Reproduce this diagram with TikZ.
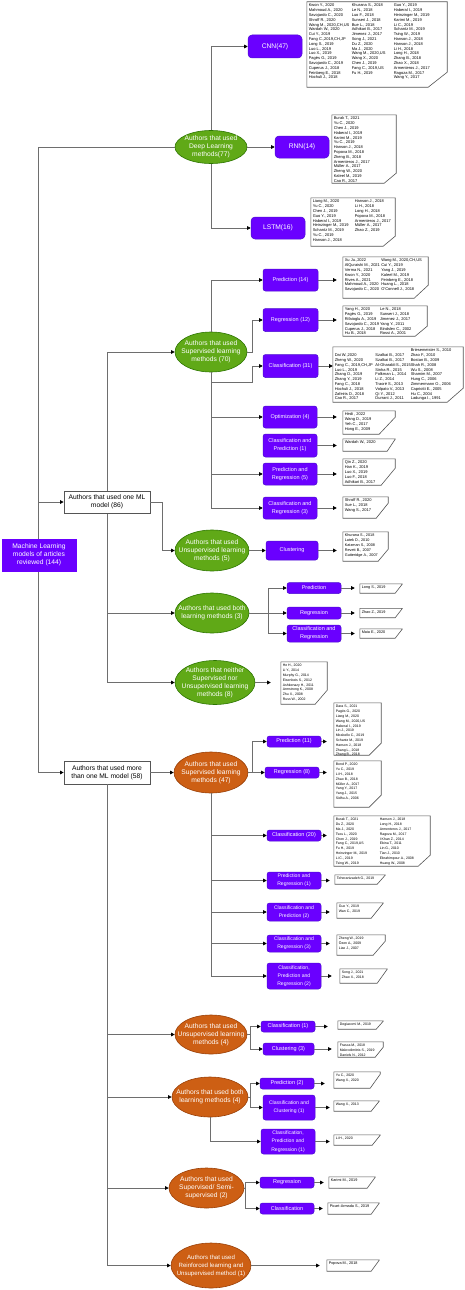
\documentclass[tikz,border=0pt]{standalone}
\usepackage{fontspec}
\setmainfont{Liberation Sans}
\setsansfont{Liberation Sans}
\usetikzlibrary{shapes.geometric,arrows.meta,fit,calc}
\definecolor{purp}{HTML}{6A00FF}
\definecolor{purpd}{HTML}{4B0FD0}
\definecolor{grn}{HTML}{60A917}
\definecolor{grnd}{HTML}{2D7600}
\definecolor{org}{HTML}{CD5F14}
\definecolor{orgd}{HTML}{9A4008}
\definecolor{lncol}{HTML}{6E6E6E}
\definecolor{cardd}{HTML}{555555}
\definecolor{boxd}{HTML}{555555}
\newcommand\et[1]{\smash{\raisebox{-2pt}{\makebox[0pt]{\begin{tabular}{@{}c@{}}#1\end{tabular}}}}}
\newcommand\lf[1]{\fontsize{#1}{4.8}\selectfont}
\newcommand\onecol[2]{\lf{#1}\begin{tabular}{@{}l@{}}#2\end{tabular}}
\newcommand\lcard[8]{%
  \node[fit={(#2,#3) (#4,#5)}, inner sep=0pt] (#1) {};
  \draw[cardline] (#1.north west) -- (#1.north east) -- ([yshift=#7pt]#1.south east) -- ([xshift=-#6pt]#1.south east) -- (#1.south west) -- cycle;
  \node[anchor=north west, inner sep=0pt] (#1t) at ([shift={(1.8pt,-1.6pt)}]#1.north west) {#8};
}
\begin{document}
\begin{tikzpicture}[x=1pt,y=-1pt,
  conn/.style={draw=lncol, line width=0.8pt},
  arr/.style={conn, -{Triangle[length=3.6pt,width=3.6pt,color=black]}},
  pbox/.style={rectangle, rounded corners=2.5pt, fill=purp, draw=purpd, line width=0.5pt, text=white, inner sep=0.5pt, align=center, font=\fontsize{5.5}{8}\selectfont},
  pboxs/.style={pbox, font=\fontsize{5.1}{8.2}\selectfont},
  dlbox/.style={pbox, rounded corners=4pt, font=\fontsize{6.7}{8}\selectfont},
  gell/.style={ellipse, fill=grn, draw=grnd, line width=0.6pt, inner sep=0pt, text=white, font=\fontsize{6.7}{8}\selectfont},
  oell/.style={gell, fill=org, draw=orgd},
  wbox/.style={rectangle, fill=white, draw=boxd, line width=0.7pt, align=center, inner sep=0pt, font=\fontsize{6.7}{8}\selectfont},
  cardline/.style={draw=cardd, line width=0.6pt}]
\fill[white] (0,0) rectangle (464,1290);
\useasboundingbox (0,0) rectangle (464,1290);

\coordinate (rA) at (38,147);
\coordinate (rB) at (38,772.5);
\coordinate (oA) at (107,352);
\coordinate (oB) at (107,682.5);
\coordinate (mB) at (107,1265.5);
\coordinate (sc) at (211,382);
\draw[conn] (rA) -- (rB);
\draw[conn] (oA) -- (oB);

% main boxes
\node[rectangle, fill=purp, draw=purp, text=white, align=center, inner sep=0pt, minimum width=74pt, minimum height=32pt, font=\fontsize{6.7}{8}\selectfont] (root) at (39,555) {Machine Learning\\models of articles\\reviewed (144)};
\node[wbox, minimum width=86pt, minimum height=22pt] (one) at (107,502) {Authors that used one ML\\model (86)};
\node[wbox, minimum width=86pt, minimum height=23pt] (more) at (107,772.5) {Authors that used more\\than one ML model (58)};

% deep learning
\node[gell, minimum width=72pt, minimum height=33pt] (dl) at (211,147) {\et{Authors that used\\Deep Learning\\methods(77)}};
\node[dlbox, minimum width=54pt, minimum height=23pt] (cnn) at (275,46.5) {CNN(47)};
\node[dlbox, minimum width=54pt, minimum height=22pt] (rnn) at (302,147) {RNN(14)};
\node[dlbox, minimum width=54pt, minimum height=22pt] (lstm) at (278,228) {LSTM(16)};

% green ellipses
\node[gell, minimum width=72pt, minimum height=40pt] (sup) at (211,352) {\et{Authors that used\\Supervised learning\\methods (70)}};
\node[gell, minimum width=74pt, minimum height=41pt] (uns) at (212,550.5) {\et{Authors that used\\Unsupervised learning\\methods (5)}};
\node[gell, minimum width=74pt, minimum height=40pt] (both) at (212,613) {\et{Authors that used both\\learning methods (3)}};
\node[gell, minimum width=80pt, minimum height=44pt] (nei) at (215,682.5) {\et{Authors that neither\\Supervised nor\\Unsupervised learning\\methods (8)}};

% orange ellipses
\node[oell, minimum width=74pt, minimum height=41pt] (osup) at (211,772.5) {\et{Authors that used\\Supervised learning\\methods (47)}};
\node[oell, minimum width=72pt, minimum height=39pt] (ouns) at (211,1034.5) {\et{Authors that used\\Unsupervised learning\\methods (4)}};
\node[oell, minimum width=76pt, minimum height=40pt] (oboth) at (210,1097) {\et{Authors that used both\\learning methods (4)}};
\node[oell, minimum width=75pt, minimum height=40pt] (osemi) at (206.5,1188) {\et{Authors that used\\Supervised/ Semi-\\supervised (2)}};
\node[oell, minimum width=80pt, minimum height=45pt, font=\fontsize{6.1}{8}\selectfont] (orein) at (211,1265.5) {\et{Authors that used\\Reinforced learning and\\Unsupervised method (1)}};

% purple boxes, green supervised
\node[pbox, minimum width=55pt, minimum height=22pt] (sp1) at (290.5,280) {Prediction (14)};
\node[pbox, minimum width=55pt, minimum height=23pt] (sp2) at (290.5,320) {Regression (12)};
\node[pbox, minimum width=55pt, minimum height=23pt] (sp3) at (290.5,366) {Classification (31)};
\node[pbox, minimum width=54pt, minimum height=22pt] (sp4) at (290,417) {Optimization (4)};
\node[pbox, minimum width=54pt, minimum height=23pt] (sp5) at (290,445.5) {Classification and\\Prediction (1)};
\node[pbox, minimum width=54pt, minimum height=22pt] (sp6) at (290,474) {Prediction and\\Regression (5)};
\node[pbox, minimum width=54pt, minimum height=22pt] (sp7) at (290,508) {Classification and\\Regression (3)};
\node[pbox, minimum width=52pt, minimum height=19pt] (clu) at (292,550.5) {Clustering};
\node[pbox, minimum width=54pt, minimum height=11pt] (bp) at (314,588) {Prediction};
\node[pbox, minimum width=54pt, minimum height=12pt] (br) at (314,613) {Regression};
\node[pbox, minimum width=54pt, minimum height=17pt] (bcr) at (314,633.5) {Classification and\\Regression};

% purple boxes, orange groups
\node[pbox, minimum width=54pt, minimum height=11pt] (op1) at (294,741.5) {Prediction (11)};
\node[pbox, minimum width=54pt, minimum height=11pt] (op2) at (292,772.5) {Regression (8)};
\node[pbox, minimum width=54pt, minimum height=11pt] (op3) at (294,835.5) {Classification (20)};
\node[pboxs, minimum width=54pt, minimum height=17pt] (op4) at (294,880.5) {Prediction and\\Regression (1)};
\node[pboxs, minimum width=54pt, minimum height=18pt] (op5) at (294,912) {Classification and\\Prediction (2)};
\node[pboxs, minimum width=54pt, minimum height=17pt] (op6) at (294,943.5) {Classification and\\Regression (3)};
\node[pboxs, minimum width=54pt, minimum height=26pt] (op7) at (294,976) {Classification,\\Prediction and\\Regression (2)};
\node[pbox, minimum width=54pt, minimum height=11pt] (ou1) at (288,1026.5) {Classification (1)};
\node[pbox, minimum width=51pt, minimum height=12pt] (ou2) at (288.5,1049) {Clustering (3)};
\node[pbox, minimum width=54pt, minimum height=11pt] (ob1) at (287,1083.5) {Prediction (2)};
\node[pboxs, minimum width=52pt, minimum height=25pt] (ob2) at (289,1107.5) {Classification and\\Clustering (1)};
\node[pboxs, minimum width=54pt, minimum height=25pt] (ob3) at (288,1141.5) {Classification,\\Prediction and\\Regression (1)};
\node[pbox, minimum width=54pt, minimum height=11pt] (os1) at (287,1182.5) {Regression};
\node[pbox, minimum width=54pt, minimum height=11pt] (os2) at (287,1208.5) {Classification};

% lists
\lcard{Lcnn}{307}{2}{447}{87}{19}{15}{\lf{4}\begin{tabular}{@{}p{43pt}@{}p{42pt}@{}l@{}}
Kwon Y., 2020 & Khurana S., 2018 & Guo Y., 2019\\
Mahmoud A., 2020 & Le N., 2018 & Haberal I., 2019\\
Savojardo C., 2020 & Luo F., 2018 & Heinzinger M., 2019\\
Shroff R., 2020 & Sunseri J., 2018 & Karimi M., 2019\\
Wang M., 2020,CH,US & Bue L., 2018 & Li C., 2019\\
Wardah W., 2020 & Adhikari B., 2017 & Schantz M., 2019\\
Cui Y., 2019 & Jimenez J., 2017 & Tsing W., 2019\\
Fang C.,2019,CH,JP & Song J., 2021 & Hanson J., 2018\\
Long S., 2019 & Du Z., 2020 & Hanson J., 2018\\
Luo L., 2019 & Ma J., 2020 & Li H., 2018\\
Luo X., 2019 & Wang M., 2020,US & Long H., 2018\\
Pagès G., 2019 & Wang X., 2020 & Zhang B., 2018\\
Savojardo C., 2019 & Chen J., 2019 & Zhao X., 2018\\
Cuperus J., 2018 & Fang C., 2019,US & Armenteros J., 2017\\
Feinberg E., 2018 & Fu H., 2019 & Ragoza M., 2017\\
Hochuli J., 2018 & & Wang Y., 2017
\end{tabular}}
\lcard{Lrnn}{332}{115}{396}{183}{12}{10}{\onecol{4}{Burak T., 2021\\Yu C., 2020\\Chen J., 2019\\Haberal I., 2019\\Karimi M., 2019\\Yu C., 2019\\Hanson J., 2018\\Popova M., 2018\\Zheng B., 2018\\Armenteros J., 2017\\Müller A., 2017\\Zheng W., 2020\\Kaleel M., 2019\\Cao R., 2017}}
\lcard{Llstm}{311}{198}{395}{246}{12}{10}{\lf{4}\begin{tabular}{@{}p{42pt}@{}l@{}}
Liang M., 2020 & Hanson J., 2018\\
Yu C., 2020 & Li H., 2018\\
Chen J., 2019 & Long H., 2018\\
Guo Y., 2019 & Popova M., 2018\\
Haberal I., 2019 & Armenteros J., 2017\\
Heinzinger M., 2019 & Müller A., 2017\\
Schantz M., 2019 & Zhao Z., 2019\\
Yu C., 2019 & \\
Hanson J., 2018 &
\end{tabular}}
\lcard{Lsp1}{343}{257}{428}{298}{14}{13}{\lf{4}\begin{tabular}{@{}p{36.5pt}@{}l@{}}
Xu Ju.,2022 & Wang M., 2020,CH,US\\
AlQuraishi M., 2021 & Cui Y., 2019\\
Verma N., 2021 & Yang J., 2019\\
Kwon Y., 2020 & Kaleel M., 2019\\
Rives A., 2021 & Feinberg E., 2018\\
Mahmoud A., 2020 & Huang L., 2018\\
Savojardo C., 2020 & O'Connell J., 2018
\end{tabular}}
\lcard{Lsp2}{343}{306}{427}{336}{12}{10}{\lf{4}\begin{tabular}{@{}p{35.3pt}@{}l@{}}
Yang H., 2020 & Le N., 2018\\
Pagès G., 2019 & Sunseri J., 2018\\
Rifaioglu A., 2019 & Jimenez J., 2017\\
Savojardo C., 2019 & Yang Y., 2011\\
Cuperus J., 2018 & Bindslev C., 2002\\
Hu B., 2018 & Rossi A., 2001
\end{tabular}}
\lcard{Lsp3}{333}{347}{463}{402}{16}{14}{\lf{4}\begin{tabular}{@{}p{40.6pt}@{}p{35.4pt}@{}l@{}}
 & & Briesemeister S., 2010\\
Dai W.,2020 & Szalkai B., 2017 & Zhao F., 2010\\
Zheng W., 2020 & Szalkai B., 2017 & Bostan B., 2009\\
Fang C., 2019,CH,JP & Al-Gharabli S., 2015 & Shah R., 2008\\
Luo L., 2019 & Sinha R., 2015 & Wu S., 2008\\
Zhang D., 2019 & Folkman L., 2014 & Shamim M., 2007\\
Zhang Y., 2019 & Li Z., 2014 & Hung C., 2006\\
Fang C., 2018 & Traoré S., 2013 & Zimmermann O., 2006\\
Hochuli J., 2018 & Volpato V., 2013 & Capriotti E., 2005\\
Zafeiris D., 2018 & Qi Y., 2012 & Hu C., 2004\\
Cao R., 2017 & Durrant J., 2011 & Ladunga I., 1991
\end{tabular}}
\lcard{Lsp4}{343}{411}{395}{434}{16}{17}{\onecol{4}{Hedi , 2022\\Wang D., 2019\\Yeh C., 2017\\Hong E., 2009}}
\lcard{Lsp5}{343}{439}{395}{451}{8}{12}{\onecol{4}{Wardah W., 2020}}
\lcard{Lsp6}{343}{459}{395}{485}{14}{17}{\onecol{4}{Qin Z., 2020\\Han K., 2019\\Luo X., 2019\\Luo F., 2018\\Adhikari B., 2017}}
\lcard{Lsp7}{343}{497}{388}{518}{12}{15}{\onecol{4}{Shroff R., 2020\\Xue L., 2018\\Wang S., 2017}}
\lcard{Lclu}{343}{532}{388}{561}{10}{12}{\onecol{3.8}{Khurana S., 2018\\Latek D., 2010\\Katzman S., 2008\\Revett B., 2007\\Gutteridge A., 2007}}
\lcard{Lbp}{360}{584}{402}{593}{7}{9}{\onecol{3.8}{Long S., 2019}}
\lcard{Lbr}{360}{608.5}{402}{617.5}{7}{9}{\onecol{3.8}{Zhao Z., 2019}}
\lcard{Lbcr}{360}{629}{402}{638}{7}{9}{\onecol{3.8}{Maia E., 2020}}
\lcard{Lnei}{281}{662}{327}{704}{12}{14}{\onecol{3.5}{He H., 2020\\Li Y., 2014\\Murphy G., 2014\\Eisenbeis S., 2012\\Ashkenazy H., 2011\\Armstrong K., 2008\\Zhu X., 2008\\Russ W., 2002}}
\lcard{Lop1}{334}{703}{381}{755}{12}{12}{\onecol{3.5}{Dara S., 2021\\Pagès G., 2020\\Liang M., 2020\\Wang M., 2020,US\\Haberal I., 2019\\Lin J., 2019\\Mirabello C., 2019\\Schantz M., 2019\\Hanson J., 2018\\Zhang L., 2018\\Zhang B., 2018}}
\lcard{Lop2}{334}{761}{381}{807}{12}{12}{\onecol{3.5}{Bond P., 2020\\Yu C., 2019\\Li H., 2018\\Zhao B., 2018\\Müller A., 2017\\Yang Y., 2017\\Yang J., 2015\\Sidhu A., 2006}}
\lcard{Lop3}{334}{816}{430}{866}{12}{11}{\lf{3.5}\begin{tabular}{@{}p{44pt}@{}l@{}}
Burak T., 2021 & Hanson J., 2018\\
Du Z., 2020 & Long H., 2018\\
Ma J., 2020 & Armenteros J., 2017\\
Tsou L., 2020 & Ragoza M., 2017\\
Chen J., 2019 & I Khan Z., 2014\\
Fang C., 2019,US & Ebina T., 2011\\
Fu H., 2019 & Lin G., 2010\\
Heinzinger M., 2019 & Tian J., 2010\\
Li C., 2019 & Ebrahimpour A., 2008\\
Tsing W., 2019 & Huang W., 2008
\end{tabular}}
\lcard{Lop4}{335}{875}{385}{884}{8}{9}{\onecol{3.5}{Teheranizadeh G., 2019}}
\lcard{Lop5}{337}{903}{383}{918}{12}{15}{\onecol{3.5}{Guo Y., 2019\\Wan C., 2019}}
\lcard{Lop6}{337}{935}{385}{955}{12}{14}{\onecol{3.5}{Zheng W., 2019\\Özen A., 2009\\Liao J., 2007}}
\lcard{Lop7}{340}{969}{387}{983}{10}{14}{\onecol{3.5}{Song J., 2021\\Zhao X., 2018}}
\lcard{Lou1}{338}{1021}{383}{1029}{7}{8}{\onecol{3.5}{Degiacomi M., 2019}}
\lcard{Lou2}{338}{1042}{383}{1057}{8}{10}{\onecol{3.5}{Frasca M., 2018\\Makrodimitris S., 2019\\Daniels N., 2012}}
\lcard{Lob1}{334}{1072}{380}{1088}{10}{14}{\onecol{3.5}{Yu C., 2020\\Wang X., 2020}}
\lcard{Lob2}{334}{1101}{379}{1111}{8}{10}{\onecol{3.5}{Wang X., 2013}}
\lcard{Lob3}{334}{1135}{380}{1145}{8}{10}{\onecol{3.5}{Li H., 2020}}
\lcard{Los1}{329}{1177}{375}{1188}{8}{11}{\onecol{3.8}{Karimi M., 2019}}
\lcard{Los2}{328}{1203}{379}{1214}{8}{11}{\onecol{3.8}{Picart-Armada S., 2019}}
\lcard{Lrein}{327}{1260}{379}{1271}{8}{11}{\onecol{3.8}{Popova M., 2018}}

% connectors: root
\draw[conn] (rA) -- (dl.west);
\draw[arr] (rA |- one.west) -- (one.west);
\draw[arr] (rB) -- (more.west);
% deep learning
\draw[arr] (dl.north) |- (cnn.west);
\draw[arr] (dl.east) -- (rnn.west);
\draw[arr] (dl.south) |- (lstm.west);
% one ML model
\draw[arr] (oA) -- (sup.west);
\draw[arr] (one.east) -- ++(12,0) |- (uns.west);
\draw[arr] (oA |- both.west) -- (both.west);
\draw[arr] (oB) -- (nei.west);
% supervised (70)
\draw[arr] (sup.north) |- (sp1.west);
\draw[arr] (sup.east) -- ++(5,0) |- (sp2.west);
\draw[arr] (sup.south) |- (sp7.west);
\draw[arr] (sc) -- ++(41,0) |- (sp3.west);
\draw[arr] (sup.south |- sp4.west) -- (sp4.west);
\draw[arr] (sup.south |- sp6.west) -- (sp6.west);
\draw[arr, shorten >=6pt] (sp1.east) -- (sp1.east -| Lsp1.west);
\draw[arr, shorten >=6pt] (sp2.east) -- (sp2.east -| Lsp2.west);
\draw[arr] (sp3.east) -- (sp3.east -| Lsp3.west);
\draw[arr, shorten >=6pt] (sp4.east) -- (sp4.east -| Lsp4.west);
\draw[arr, shorten >=6pt] (sp5.east) -- (sp5.east -| Lsp5.west);
\draw[arr, shorten >=6pt] (sp6.east) -- (sp6.east -| Lsp6.west);
\draw[arr, shorten >=6pt] (sp7.east) -- (sp7.east -| Lsp7.west);
% unsupervised (5)
\draw[arr] (uns.east) -- (clu.west);
\draw[arr, shorten >=6pt] (clu.east) -- (clu.east -| Lclu.west);
% both (3)
\draw[arr] (both.east) -- ++(19,0) |- (bp.west);
\draw[arr] (both.east) -- (br.west);
\draw[arr] (both.east) -- ++(19,0) |- (bcr.west);
\draw[arr, shorten >=5pt] (bp.east) -- (bp.east -| Lbp.west);
\draw[arr, shorten >=5pt] (br.east) -- (br.east -| Lbr.west);
\draw[arr, shorten >=5pt] (bcr.east) -- (bcr.east -| Lbcr.west);
% neither
\draw[arr, shorten >=10pt] (nei.east) -- (nei.east -| Lnei.west);
% more than one
\draw[arr] (more.east) -- (osup.west);
\draw[conn] (more.south) -- (mB);
\draw[arr] (more.south |- ouns.west) -- (ouns.west);
\draw[arr] (more.south |- oboth.west) -- (oboth.west);
\draw[arr] (more.south |- osemi.west) -- (osemi.west);
\draw[arr] (mB) -- (orein.west);
% orange supervised
\draw[arr] (osup.east) -- ++(4,0) |- (op1.west);
\draw[arr] (osup.east) -- (op2.west);
\draw[arr] (osup.south) |- (op7.west);
\draw[arr] (osup.south |- op3.west) -- (op3.west);
\draw[arr] (osup.south |- op4.west) -- (op4.west);
\draw[arr] (osup.south |- op5.west) -- (op5.west);
\draw[arr] (osup.south |- op6.west) -- (op6.west);
\draw[arr, shorten >=7pt] (op1.east) -- (op1.east -| Lop1.west);
\draw[arr, shorten >=7pt] (op2.east) -- (op2.east -| Lop2.west);
\draw[arr, shorten >=7pt] (op3.east) -- (op3.east -| Lop3.west);
\draw[arr, shorten >=5pt] (op4.east) -- (op4.east -| Lop4.west);
\draw[arr, shorten >=7pt] (op5.east) -- (op5.east -| Lop5.west);
\draw[arr, shorten >=7pt] (op6.east) -- (op6.east -| Lop6.west);
\draw[arr, shorten >=8pt] (op7.east) -- (op7.east -| Lop7.west);
% orange unsupervised
\draw[arr] (ouns.east) -- ++(3,0) |- (ou1.west);
\draw[arr] (ouns.east) -- ++(3,0) |- (ou2.west);
\draw[arr, shorten >=10pt] (ou1.east) -- (ou1.east -| Lou1.west);
\draw[arr, shorten >=6pt] (ou2.east) -- (ou2.east -| Lou2.west);
% orange both
\draw[arr] (oboth.east) -- ++(2,0) |- (ob1.west);
\draw[arr] (oboth.east) -- ++(2,0) |- (ob2.west);
\draw[arr] (oboth.south) |- (ob3.west);
\draw[arr, shorten >=9pt] (ob1.east) -- (ob1.east -| Lob1.west);
\draw[arr, shorten >=4pt] (ob2.east) -- (ob2.east -| Lob2.west);
\draw[arr, shorten >=4pt] (ob3.east) -- (ob3.east -| Lob3.west);
% orange semi
\draw[arr] (osemi.east) -- ++(1,0) |- (os1.west);
\draw[arr] (osemi.east) -- ++(1,0) |- (os2.west);
\draw[arr, shorten >=5pt] (os1.east) -- (os1.east -| Los1.west);
\draw[arr, shorten >=5pt] (os2.east) -- (os2.east -| Los2.west);
% reinforced
\draw[arr, shorten >=7pt] (orein.east) -- (orein.east -| Lrein.west);
\end{tikzpicture}
\end{document}
